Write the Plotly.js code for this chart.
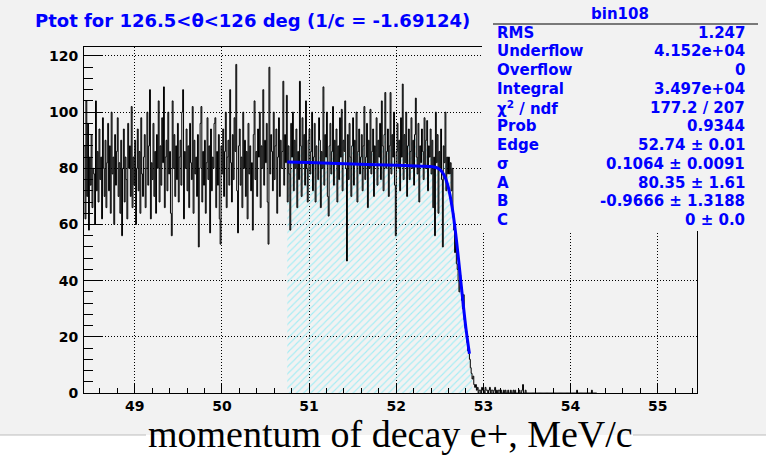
<!DOCTYPE html>
<html><head><meta charset="utf-8">
<script src="https://cdn.plot.ly/plotly-3.0.1.min.js"></script>
<style>html,body{margin:0;padding:0;background:#fff}</style>
</head><body><div id="chart" style="width:766px;height:458px"></div>
<script>
// ---- data ----
const binStart = 48.42;   // lower edge of first bin (MeV/c)
const binWidth = 0.01;
const counts = [
  88, 62, 104, 70, 96, 58, 84, 74,
  92, 66, 80, 78, 60, 104, 72, 86, 68, 94,
  76, 84, 62, 98, 80, 70, 90, 66, 82, 96,
  72, 88, 64, 100, 78, 84, 60, 92, 74, 86,
  98, 70, 82, 64, 90, 56, 80, 94, 68, 84,
  76, 62, 96, 80, 88, 70, 102, 66, 84, 74,
  90, 60, 80, 94, 72, 86, 64, 98, 78, 70,
  84, 92, 66, 80, 100, 74, 88, 108, 62, 82,
  76, 96, 70, 86, 64, 92, 80, 104, 68, 88,
  74, 98, 82, 109, 66, 84, 90, 72, 100, 78,
  86, 64, 56, 104, 80, 92, 70, 88, 76, 96,
  68, 84, 90, 74, 100, 108, 62, 86, 80, 94,
  72, 88, 66, 96, 82, 76, 102, 64, 90, 78,
  84, 70, 92, 52, 80, 96, 102, 68, 86, 74,
  90, 64, 82, 98, 76, 88, 57, 94, 72, 84,
  80, 96, 98, 66, 86, 74, 92, 62, 53, 88,
  78, 94, 70, 86, 100, 66, 84, 90, 74, 108,
  82, 68, 92, 76, 98, 86, 117, 72, 57, 88,
  94, 74, 84, 66, 100, 80, 90, 70, 86, 62,
  96, 78, 88, 72, 82, 58, 92, 104, 76, 86,
  70, 94, 84, 100, 66, 88, 80, 108, 74, 90,
  82, 96, 68, 53, 116, 78, 92, 86, 72, 100,
  76, 88, 94, 64, 84, 98, 70, 90, 80, 86,
  111, 74, 92, 82, 106, 68, 88, 78, 58, 96,
  84, 100, 72, 90, 80, 94, 66, 86, 76, 111,
  88, 70, 98, 82, 92, 74, 104, 80, 68, 90,
  94, 78, 86, 100, 72, 84, 96, 68, 88, 82,
  76, 98, 90, 66, 86, 80, 109, 74, 92, 84,
  100, 70, 63, 88, 96, 78, 86, 102, 74, 90,
  82, 94, 68, 88, 76, 98, 84, 101, 72, 90,
  86, 104, 80, 47, 92, 76, 96, 84, 70, 88,
  98, 74, 90, 82, 100, 68, 86, 94, 78, 84,
  92, 72, 88, 102, 76, 84, 96, 66, 90, 80,
  101, 78, 86, 94, 70, 88, 82, 98, 74, 90,
  84, 96, 76, 104, 88, 72, 92, 107, 80, 86,
  94, 70, 88, 107, 78, 92, 84, 100, 74, 56,
  86, 96, 80, 90, 72, 98, 84, 110, 76, 92,
  82, 100, 70, 88, 94, 76, 86, 98, 80, 90,
  74, 92, 105, 84, 78, 96, 68, 88, 82, 94,
  86, 76, 98, 80, 90, 97, 72, 88, 84, 94,
  78, 90, 66, 84, 56, 100, 82, 92, 64, 86,
  80, 94, 76, 52, 88, 82, 100, 72, 84, 78,
  84, 78, 82, 72, 80, 64, 58, 50, 56, 46,
  44, 40, 36, 42, 38, 33, 30, 35, 26, 23,
  22, 18, 15, 14, 12, 9, 7, 5, 6, 3,
  2, 3, 1, 2, 0, 1, 1, 0, 2, 1,
  1, 0, 2, 1, 1, 0, 1, 2, 0, 1,
  1, 0, 1, 2, 0, 1, 0, 1, 1, 0,
  1, 0, 0, 1, 0, 1, 0, 0, 1, 0,
  0, 1, 0, 0, 1, 0, 1, 0, 0, 0,
  0, 1, 0, 0, 1, 3, 0, 0, 1, 0,
  0, 0, 0, 0, 0, 0, 0, 0, 0, 0,
  0, 0, 0, 0, 0, 0, 0, 0, 0, 0,
  0, 0, 0, 0, 0, 0, 0, 0, 0, 0,
  0, 0, 0, 0, 0, 0, 0, 0, 0, 0,
  0, 0, 0, 0, 0, 0, 0, 0, 0, 0,
  0, 0, 0, 0, 0, 0, 0, 1, 0, 0,
  0, 0, 0, 0, 0, 0, 0, 0, 0, 0,
  0, 0, 0, 0, 1, 0, 0, 0, 0, 0
];
// fit curve
const fitX = [50.75, 51.0, 51.5, 52.0, 52.3, 52.4, 52.45, 52.5, 52.53, 52.56, 52.59, 52.62, 52.65, 52.68, 52.71, 52.74, 52.77, 52.8, 52.84];
const fitY = [82.27, 82.03, 81.55, 81.07, 80.78, 80.62, 80.37, 79.60, 78.60, 76.88, 74.14, 70.02, 64.43, 57.37, 49.11, 40.18, 31.25, 23.00, 13.95];
const hatchFrom = 50.75, hatchTo = 52.87;
const xTicks = [49, 50, 51, 52, 53, 54, 55];
const yTicks = [0, 20, 40, 60, 80, 100, 120];
const titleText = "Ptot for 126.5&lt;θ&lt;126 deg (1/c = -1.69124)";
const statTitle = "bin108";
const statLabels = ["RMS", "Underflow", "Overflow", "Integral", "χ<sup>2</sup> / ndf", "Prob", "Edge", "σ", "A", "B", "C"];
const statValues = ["1.247", "4.152e+04", "0", "3.497e+04", "177.2 / 207", "0.9344", "52.74 ± 0.01", "0.1064 ± 0.0091", "80.35 ± 1.61", "-0.9666 ± 1.3188", "0 ± 0.0"];
const xTitle = "momentum of decay e+, MeV/c";

// ---- geometry helpers (pixels -> paper) ----
const L = 84, R = 697, T = 47, B = 393;
const px = v => (v - L) / (R - L);
const py = v => (B - v) / (B - T);

// ---- traces ----
const edges = counts.map((_, i) => binStart + i * binWidth);
edges.push(binStart + counts.length * binWidth);
const stepY = counts.concat([counts[counts.length - 1]]);

const i0 = Math.round((hatchFrom - binStart) / binWidth);
const i1 = Math.round((hatchTo - binStart) / binWidth);
const hx = edges.slice(i0, i1 + 1);
const hy = counts.slice(i0, i1).concat([counts[i1 - 1]]);

const blue = "#0000ff";
const bold = {family: "DejaVu Sans", weight: "bold"};

const traces = [
  {x: hx, y: hy, type: "scatter", mode: "lines", line: {width: 0, shape: "hv"},
   fill: "tozeroy", fillcolor: "rgba(0,0,0,0)",
   fillpattern: {shape: "/", fgcolor: "#a6edf4", bgcolor: "rgba(0,0,0,0)", size: 5, solidity: 0.22},
   hoverinfo: "skip", showlegend: false},
  {x: edges, y: stepY, type: "scatter", mode: "lines", line: {color: "#000", width: 1, shape: "hv"},
   hoverinfo: "skip", showlegend: false},
  {x: fitX, y: fitY, type: "scatter", mode: "lines", line: {color: blue, width: 3, shape: "spline"},
   hoverinfo: "skip", showlegend: false}
];

const annotations = [];
annotations.push({text: titleText, xref: "paper", yref: "paper", x: px(252), y: py(20),
  xanchor: "center", yanchor: "middle", showarrow: false,
  font: Object.assign({size: 18, color: blue}, bold)});
annotations.push({text: statTitle, xref: "paper", yref: "paper", x: px(620), y: py(14),
  xanchor: "center", yanchor: "middle", showarrow: false,
  font: Object.assign({size: 15, color: blue}, bold)});
statLabels.forEach((s, k) => {
  const yc = 32.7 + k * 18.75;
  annotations.push({text: s, xref: "paper", yref: "paper", x: px(495), y: py(yc),
    xanchor: "left", yanchor: "middle", showarrow: false,
    font: Object.assign({size: 15, color: blue}, bold)});
  annotations.push({text: statValues[k], xref: "paper", yref: "paper", x: px(747), y: py(yc),
    xanchor: "right", yanchor: "middle", showarrow: false,
    font: Object.assign({size: 15, color: blue}, bold)});
});
annotations.push({text: xTitle, xref: "paper", yref: "paper", x: px(390), y: py(434),
  xanchor: "center", yanchor: "middle", showarrow: false,
  font: {family: "Liberation Serif", size: 38, color: "#000"}});

const shapes = [
  {type: "rect", xref: "paper", yref: "paper", x0: px(0), x1: px(766), y0: py(435), y1: py(458),
   fillcolor: "#ffffff", line: {width: 0}, layer: "below"},
  {type: "line", xref: "paper", yref: "paper", x0: px(0), x1: px(146), y0: py(435), y1: py(435),
   line: {color: "#bdbdbd", width: 1}},
  {type: "line", xref: "paper", yref: "paper", x0: px(633), x1: px(766), y0: py(435), y1: py(435),
   line: {color: "#bdbdbd", width: 1}},
  {type: "rect", xref: "paper", yref: "paper", x0: px(482), x1: px(766), y0: py(231), y1: py(0),
   fillcolor: "#f2f2f2", line: {width: 0}, layer: "above"},
  {type: "line", xref: "paper", yref: "paper", x0: px(493), x1: px(758), y0: py(24), y1: py(24),
   line: {color: "#000", width: 1}, layer: "above"}
];

const axisCommon = {
  ticks: "inside", tickcolor: "#000", tickwidth: 1,
  showline: true, linecolor: "#000", linewidth: 1, mirror: true,
  showgrid: true, gridcolor: "#000", gridwidth: 1, griddash: "1px,2px",
  zeroline: false, tickfont: Object.assign({size: 14, color: "#000"}, bold),
  fixedrange: true
};

const layout = {
  width: 766, height: 458, autosize: false,
  margin: {l: L, r: 766 - R, t: T, b: 458 - B, pad: 0},
  paper_bgcolor: "#f2f2f2", plot_bgcolor: "#f2f2f2",
  showlegend: false,
  xaxis: Object.assign({}, axisCommon, {
    range: [48.418, 55.451], tickmode: "array", tickvals: xTicks, ticktext: xTicks.map(String),
    ticklen: 10,
    minor: {dtick: 0.2, tick0: 49, ticks: "inside", ticklen: 5, tickcolor: "#000", tickwidth: 1, showgrid: false}
  }),
  yaxis: Object.assign({}, axisCommon, {
    range: [0, 123.2], tickmode: "array", tickvals: yTicks, ticktext: yTicks.map(String),
    ticklen: 18, ticklabelstandoff: 2,
    minor: {dtick: 4, tick0: 0, ticks: "inside", ticklen: 9, tickcolor: "#000", tickwidth: 1, showgrid: false}
  }),
  annotations: annotations,
  shapes: shapes
};

Plotly.newPlot("chart", traces, layout, {displayModeBar: false, staticPlot: true});
</script>
</body></html>
